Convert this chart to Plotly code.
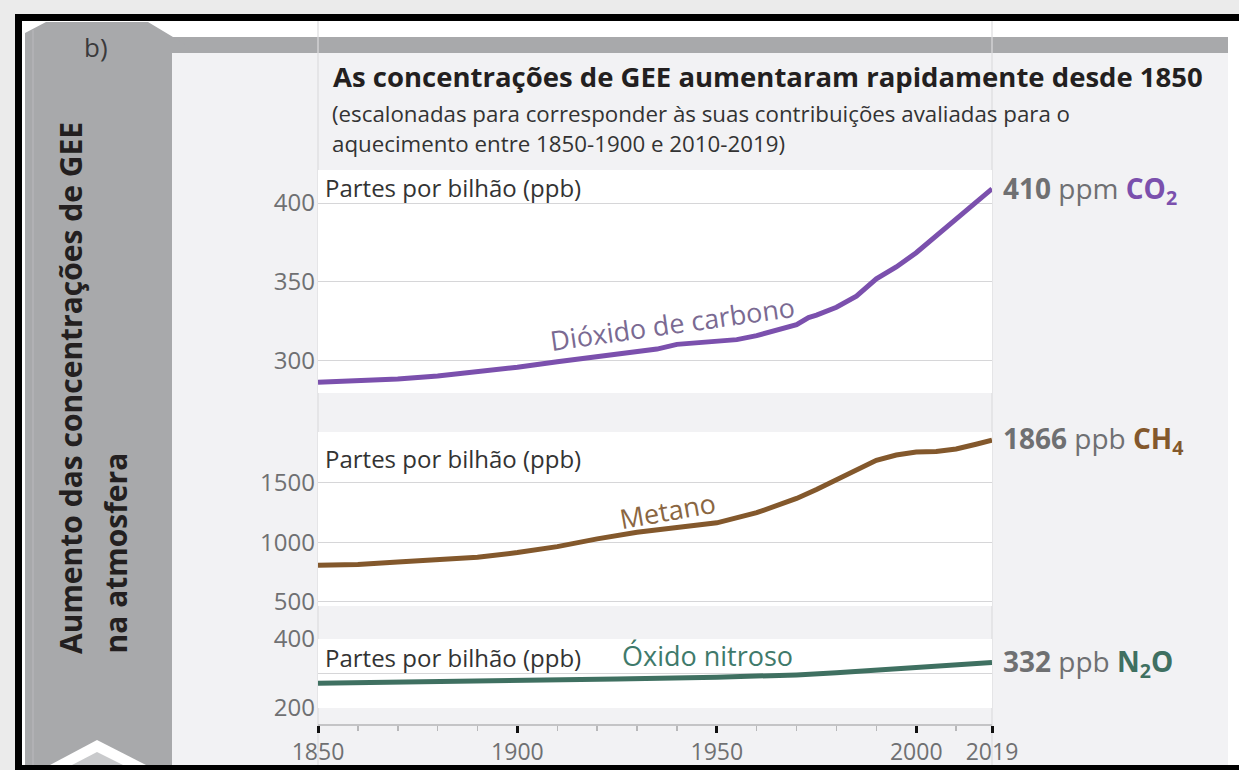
import plotly.graph_objects as go

# ---------------- data ----------------
years_co2 = [1850, 1860, 1870, 1880, 1890, 1900, 1910, 1920, 1930, 1935, 1940, 1950, 1955,
             1960, 1965, 1970, 1973, 1975, 1980, 1985, 1990, 1995, 2000, 2005, 2010, 2015, 2019]
co2_ppm = [286.5, 287.5, 288.5, 290.5, 293, 296, 299.5, 303, 306, 307.5, 310.5, 312, 313.5,
           316, 319.5, 323, 327.5, 329, 334, 341, 352, 359.5, 368.5, 379, 390, 400, 409]

years_ch4 = [1850, 1860, 1870, 1880, 1890, 1900, 1910, 1920, 1930, 1940, 1950, 1960, 1970,
             1975, 1980, 1985, 1990, 1995, 2000, 2005, 2010, 2015, 2019]
ch4_ppb = [808, 815, 835, 850, 875, 915, 965, 1030, 1085, 1125, 1165, 1250, 1370,
           1445, 1530, 1610, 1690, 1735, 1760, 1765, 1785, 1825, 1860]

years_n2o = [1850, 1875, 1900, 1925, 1950, 1960, 1970, 1980, 1990, 2000, 2010, 2019]
n2o_ppb = [272, 275, 279, 284, 289, 292, 296, 302, 309, 316, 324, 332]

x_major_ticks = [1850, 1900, 1950, 2000, 2019]
x_minor_ticks = [1860, 1870, 1880, 1890, 1910, 1920, 1930, 1940, 1960, 1970, 1980, 1990, 2010]
co2_ticks = [300, 350, 400]
ch4_ticks = [500, 1000, 1500]
n2o_ticks = [200, 300, 400]
n2o_ticktext = ["200", "", "400"]

title = "As concentrações de GEE aumentaram rapidamente desde 1850"
subtitle1 = "(escalonadas para corresponder às suas contribuições avaliadas para o"
subtitle2 = "aquecimento entre 1850-1900 e 2010-2019)"
unit_label = "Partes por bilhão (ppb)"
side_line1 = "Aumento das concentrações de GEE"
side_line2 = "na atmosfera"

# ---------------- style ----------------
W, H = 1239, 770
C_CO2 = "#7b50ad"
C_CH4 = "#83582c"
C_N2O = "#3f7061"
GRAY_TXT = "#6f7072"
PANEL_GRAY = "#a8a9ab"
LIGHT_BG = "#f2f2f4"
GRID = "#d6d6d8"
FONT = "Open Sans, Noto Sans, sans-serif"


def px(x):
    return x / W


def py(y):
    return 1 - y / H


X0, X1 = 318, 992
dom_x = [px(X0), px(X1)]
dom_co2 = [py(393), py(170)]
dom_ch4 = [py(606), py(432)]
dom_n2o = [py(708), py(639)]

fig = go.Figure()
fig.add_trace(go.Scatter(x=years_co2, y=co2_ppm, mode="lines", line=dict(color=C_CO2, width=5),
                         xaxis="x", yaxis="y", hoverinfo="skip", showlegend=False))
fig.add_trace(go.Scatter(x=years_ch4, y=ch4_ppb, mode="lines", line=dict(color=C_CH4, width=5),
                         xaxis="x2", yaxis="y2", hoverinfo="skip", showlegend=False))
fig.add_trace(go.Scatter(x=years_n2o, y=n2o_ppb, mode="lines", line=dict(color=C_N2O, width=5),
                         xaxis="x3", yaxis="y3", hoverinfo="skip", showlegend=False))

xr = [1850, 2019]
hidden_x = dict(range=xr, domain=dom_x, showgrid=False, zeroline=False, showticklabels=False,
                ticks="", showline=False, fixedrange=True, automargin=False)
ycommon = dict(showgrid=True, gridcolor=GRID, gridwidth=1, zeroline=False, showline=False,
               ticks="", tickfont=dict(family=FONT, size=24, color=GRAY_TXT), ticklabelstandoff=2,
               automargin=False, fixedrange=True)

fig.update_layout(
    template="none",
    width=W, height=H,
    margin=dict(l=0, r=0, t=0, b=0, pad=0, autoexpand=False),
    paper_bgcolor="#ebebeb",
    plot_bgcolor="rgba(0,0,0,0)",
    showlegend=False,
    xaxis=dict(**hidden_x, anchor="y"),
    xaxis2=dict(**hidden_x, anchor="y2"),
    xaxis3=dict(range=xr, domain=dom_x, anchor="free", position=py(724), showgrid=False,
                zeroline=False, showline=True, linecolor="#c4c4c6", linewidth=1.5,
                automargin=False, fixedrange=True,
                tickmode="array", tickvals=x_major_ticks, ticks="outside", ticklen=7,
                tickwidth=3, tickcolor="#111111",
                tickfont=dict(family=FONT, size=23, color=GRAY_TXT),
                minor=dict(tickmode="array", tickvals=x_minor_ticks, ticks="outside",
                           ticklen=5, tickwidth=1.5, tickcolor="#b8b8ba", showgrid=False)),
    yaxis=dict(**ycommon, domain=dom_co2, anchor="x", range=[279.7, 420.9],
               tickvals=co2_ticks),
    yaxis2=dict(**ycommon, domain=dom_ch4, anchor="x2", range=[466, 1928],
                tickvals=ch4_ticks),
    yaxis3=dict(**ycommon, domain=dom_n2o, anchor="x3", range=[200, 400],
                tickvals=n2o_ticks, ticktext=n2o_ticktext),
)

shapes = []
# black frame + white inside
shapes.append(dict(type="rect", xref="paper", yref="paper", x0=px(15), x1=px(1239), y0=py(770), y1=py(14),
                   fillcolor="#000000", line=dict(width=0), layer="below"))
shapes.append(dict(type="rect", xref="paper", yref="paper", x0=px(22), x1=px(1239), y0=py(765), y1=py(21),
                   fillcolor="#ffffff", line=dict(width=0), layer="below"))
# light panel
shapes.append(dict(type="rect", xref="paper", yref="paper", x0=px(172), x1=px(1228), y0=py(765), y1=py(53),
                   fillcolor=LIGHT_BG, line=dict(width=0), layer="below"))
# top bar
shapes.append(dict(type="rect", xref="paper", yref="paper", x0=px(172), x1=px(1228), y0=py(53), y1=py(37),
                   fillcolor=PANEL_GRAY, line=dict(width=0), layer="below"))
# left gray panel with arrow top
path = "M {},{} L {},{} L {},{} L {},{} L {},{} L {},{} L {},{} L {},{} L {},{} Z".format(
    px(25), py(33), px(46), py(22), px(148), py(22), px(188), py(46), px(190), py(53),
    px(172), py(53), px(172), py(765), px(25), py(765), px(25), py(33))
shapes.append(dict(type="path", xref="paper", yref="paper", path=path,
                   fillcolor=PANEL_GRAY, line=dict(width=0), layer="below"))
# faint inner line in left panel
shapes.append(dict(type="line", xref="paper", yref="paper", x0=px(33), x1=px(33), y0=py(765), y1=py(30),
                   line=dict(color="#b4b5b7", width=1.5), layer="below"))
# bottom chevron
chev_out = "M {},{} L {},{} L {},{} Z".format(px(50), py(765), px(97), py(740), px(146), py(765))
chev_in = "M {},{} L {},{} L {},{} Z".format(px(72), py(765), px(97), py(752), px(123), py(765))
shapes.append(dict(type="path", xref="paper", yref="paper", path=chev_out, fillcolor="#ffffff",
                   line=dict(width=0), layer="below"))
shapes.append(dict(type="path", xref="paper", yref="paper", path=chev_in, fillcolor="#c9cacc",
                   line=dict(width=0), layer="below"))
# faint vertical guide lines
for xv in (X0, X1):
    shapes.append(dict(type="line", xref="paper", yref="paper", x0=px(xv), x1=px(xv), y0=py(765), y1=py(21),
                       line=dict(color="#dcdcde", width=1.2), layer="below"))
# white panels
for xa, ya in (("x", "y"), ("x2", "y2"), ("x3", "y3")):
    shapes.append(dict(type="rect", xref=xa + " domain", yref=ya + " domain", x0=0, x1=1, y0=0, y1=1,
                       fillcolor="#ffffff", line=dict(width=0), layer="below"))
fig.update_layout(shapes=shapes)

ann = []


def A(text, x, y, size, color="#231f20", xanchor="left", yanchor="middle", angle=0, bold=False, font=FONT):
    t = "<b>" + text + "</b>" if bold else text
    ann.append(dict(text=t, x=px(x), y=py(y), xref="paper", yref="paper", showarrow=False,
                    xanchor=xanchor, yanchor=yanchor, textangle=angle,
                    font=dict(family=font, size=size, color=color)))


A("b)", 96, 47, 26, color="#3a3a3c", xanchor="center")
A(title, 331, 77, 27.5, bold=True)
A(subtitle1, 330, 113, 22.3, color="#333333")
A(subtitle2, 330, 143, 22.3, color="#333333")
A(side_line1, 70, 656, 30, angle=-90, bold=True, xanchor="center", yanchor="bottom")
A(side_line2, 115, 656, 30, angle=-90, bold=True, xanchor="center", yanchor="bottom")

A(unit_label, 323, 187, 24, color="#333333")
A(unit_label, 323, 458, 24, color="#333333")
A(unit_label, 323, 657, 24, color="#333333")

A("Dióxido de carbono", 672, 323, 27, color="#7a6a92", xanchor="center", angle=-8)
A("Metano", 667, 510, 27, color="#8a6642", xanchor="center", angle=-10)
A("Óxido nitroso", 707, 655, 27, color="#3f7a6b", xanchor="center")

A("<b>410</b> ppm <b><span style='color:%s'>CO<sub>2</sub></span></b>" % C_CO2, 1001, 190, 28, color=GRAY_TXT)
A("<b>1866</b> ppb <b><span style='color:%s'>CH<sub>4</sub></span></b>" % C_CH4, 1001, 440, 28, color=GRAY_TXT)
A("<b>332</b> ppb <b><span style='color:%s'>N<sub>2</sub>O</span></b>" % C_N2O, 1001, 663, 28, color=GRAY_TXT)

fig.update_layout(annotations=ann)
fig.write_html("out.html",
               config={"displayModeBar": False, "staticPlot": True},
               post_script="document.body.style.margin='0';document.body.style.overflow='hidden';"
                           "document.body.style.background='#ebebeb';")
